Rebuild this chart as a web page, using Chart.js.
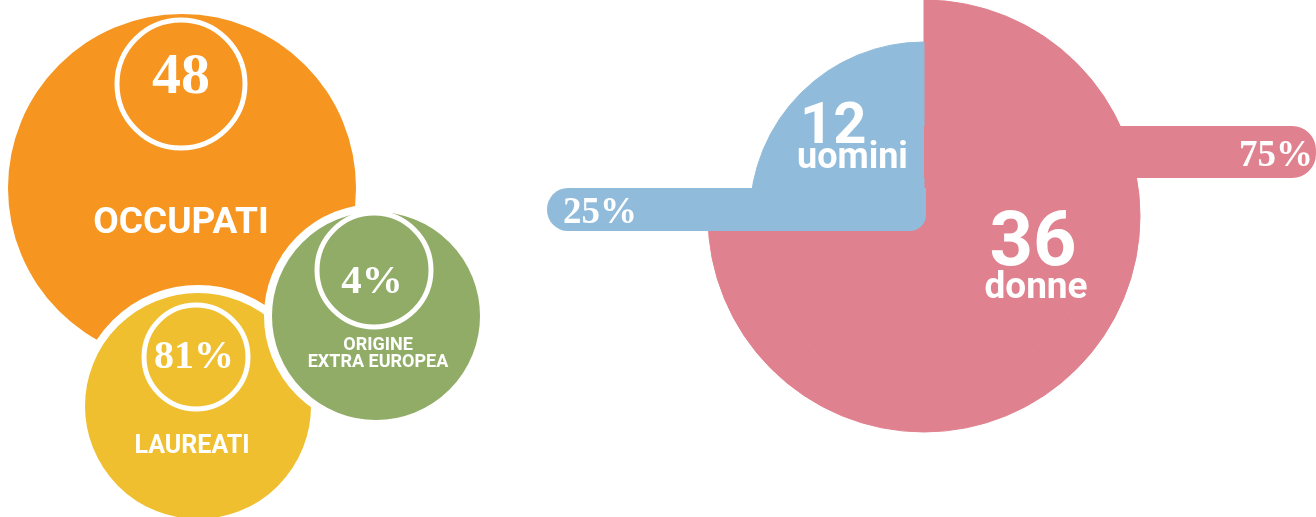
<!DOCTYPE html>
<html>
<head>
<meta charset="utf-8">
<script src="https://cdn.jsdelivr.net/npm/chart.js@4.4.1/dist/chart.umd.min.js"></script>
<style>
    html, body { margin: 0; padding: 0; background: #fff; }
    body { width: 1316px; height: 517px; position: relative; overflow: hidden; }
    /* bubble chart reserves its largest radius as padding on every side,
       so the canvas is grown by that much to keep the plot area on the page */
    #bubbleWrap { position: absolute; left: -174px; top: -174px; width: 888px; height: 865px; }
    #pieWrap { position: absolute; left: 520px; top: 0; width: 796px; height: 517px; }
</style>
</head>
<body>
<div id="pieWrap"><canvas id="pieChart"></canvas></div>
<div id="bubbleWrap"><canvas id="bubbleChart"></canvas></div>
<script>
(function () {
    "use strict";

    // ── Data ──
    const bubbleLabels = [["OCCUPATI"], ["LAUREATI"], ["ORIGINE", "EXTRA EUROPEA"]];
    const bubbleValues = ["48", "81%", "4%"];

    const genderLabels = ["donne", "uomini"];
    const genderCounts = [36, 12];

    // Palette
    const COLORS = {
        orange: "#F6951F",
        yellow: "#EFBF30",
        green:  "#90AC67",
        pink:   "#E0818F",
        blue:   "#91BBDA",
        white:  "#ffffff"
    };

    const SANS = "Roboto, 'Noto Sans', sans-serif";
    const SERIF = "'Liberation Serif', 'DejaVu Serif', serif";

    // Infographic layout of the bubbles (pixels, not data)
    const bubbleLayout = [
        { x: 182, y: 188, r: 174, border: 0, color: COLORS.orange,
          ring: { x: 181, y: 84, r: 64 },
          value: { dx: -1, dy: -95, size: 58 },
          label: { dx: -1, dy: 45, size: 37, lh: 0 } },
        { x: 198, y: 406, r: 117, border: 8, color: COLORS.yellow,
          ring: { x: 196, y: 357, r: 52 },
          value: { dx: -4, dy: -38, size: 40 },
          label: { dx: -6, dy: 47, size: 25, lh: 0 } },
        { x: 376, y: 316, r: 108, border: 8, color: COLORS.green,
          ring: { x: 374, y: 270, r: 57 },
          value: { dx: -4, dy: -23, size: 41 },
          label: { dx: 2, dy: 34, size: 18, lh: 17 } }
    ];

    function roundedRect(ctx, x, y, w, h, r) {
        // r = [topLeft, topRight, bottomRight, bottomLeft]
        ctx.beginPath();
        ctx.moveTo(x + r[0], y);
        ctx.lineTo(x + w - r[1], y);
        ctx.arcTo(x + w, y, x + w, y + r[1], r[1]);
        ctx.lineTo(x + w, y + h - r[2]);
        ctx.arcTo(x + w, y + h, x + w - r[2], y + h, r[2]);
        ctx.lineTo(x + r[3], y + h);
        ctx.arcTo(x, y + h, x, y + h - r[3], r[3]);
        ctx.lineTo(x, y + r[0]);
        ctx.arcTo(x, y, x + r[0], y, r[0]);
        ctx.closePath();
    }

    // ── Bubble texts ──
    const bubbleText = {
        id: "bubbleText",
        afterDatasetsDraw(chart) {
            const ctx = chart.ctx;
            const meta = chart.getDatasetMeta(1);
            ctx.save();
            ctx.fillStyle = COLORS.white;
            ctx.textAlign = "center";
            ctx.textBaseline = "alphabetic";
            meta.data.forEach((pt, i) => {
                const L = bubbleLayout[i];
                ctx.font = `bold ${L.value.size}px ${SERIF}`;
                ctx.fillText(bubbleValues[i], pt.x + L.value.dx, pt.y + L.value.dy);
                ctx.font = `bold ${L.label.size}px ${SANS}`;
                bubbleLabels[i].forEach((line, j) => {
                    ctx.fillText(line, pt.x + L.label.dx, pt.y + L.label.dy + j * L.label.lh);
                });
            });
            ctx.restore();
        }
    };

    new Chart(document.getElementById("bubbleChart"), {
        type: "bubble",
        data: {
            labels: bubbleValues,
            datasets: [
                {
                    // inner white rings
                    data: bubbleLayout.map(b => ({ x: b.ring.x, y: b.ring.y, r: b.ring.r })),
                    backgroundColor: "rgba(0,0,0,0)",
                    borderColor: COLORS.white,
                    borderWidth: 5,
                    order: 0,
                    clip: false
                },
                {
                    data: bubbleLayout.map(b => ({ x: b.x, y: b.y, r: b.r })),
                    backgroundColor: bubbleLayout.map(b => b.color),
                    borderColor: COLORS.white,
                    borderWidth: bubbleLayout.map(b => b.border),
                    order: 1,
                    clip: false
                }
            ]
        },
        options: {
            responsive: true,
            maintainAspectRatio: false,
            animation: false,
            events: [],
            layout: { padding: 0 },
            plugins: { legend: { display: false }, tooltip: { enabled: false } },
            scales: {
                x: { type: "linear", min: 0, max: 540, display: false },
                y: { type: "linear", min: 0, max: 517, reverse: true, display: false }
            }
        },
        plugins: [bubbleText]
    });

    // ── Pie callouts and labels ──
    const pieCallouts = {
        id: "pieCallouts",
        afterDatasetsDraw(chart) {
            const ctx = chart.ctx;
            const arcs = chart.getDatasetMeta(1).data;
            const cx = arcs[0].x, cy = arcs[0].y;
            const total = genderCounts.reduce((a, b) => a + b, 0);
            const pct = genderCounts.map(v => Math.round(v / total * 100) + "%");

            ctx.save();
            // blue callout bar to the left
            ctx.fillStyle = COLORS.blue;
            roundedRect(ctx, cx - 377, cy - 28, 379, 43, [21, 0, 16, 21]);
            ctx.fill();
            // pink callout bar to the right
            ctx.fillStyle = COLORS.pink;
            roundedRect(ctx, cx, cy - 90, chart.width - cx, 52, [0, 24, 24, 0]);
            ctx.fill();

            ctx.fillStyle = COLORS.white;
            ctx.textBaseline = "alphabetic";

            ctx.font = `bold 37px ${SERIF}`;
            ctx.textAlign = "left";
            ctx.fillText(pct[1], cx - 361, cy + 7);
            ctx.textAlign = "right";
            ctx.fillText(pct[0], chart.width - 3, cy - 50);

            ctx.textAlign = "left";
            ctx.font = `bold 58px ${SANS}`;
            ctx.fillText(String(genderCounts[1]), cx - 124, cy - 73);
            ctx.font = `bold 36px ${SANS}`;
            ctx.fillText(genderLabels[1], cx - 127, cy - 48);

            ctx.textAlign = "center";
            ctx.font = `bold 76px ${SANS}`;
            ctx.fillText(String(genderCounts[0]), cx + 109, cy + 49);
            ctx.font = `bold 37px ${SANS}`;
            ctx.fillText(genderLabels[0], cx + 112, cy + 82);
            ctx.restore();
        }
    };

    new Chart(document.getElementById("pieChart"), {
        type: "pie",
        data: {
            labels: genderLabels,
            datasets: [
                {
                    // outer ring: only the larger slice reaches the full radius
                    data: genderCounts,
                    backgroundColor: [COLORS.pink, "rgba(0,0,0,0)"],
                    borderColor: [COLORS.pink, "rgba(0,0,0,0)"],
                    borderWidth: 1,
                    weight: 42
                },
                {
                    data: genderCounts,
                    backgroundColor: [COLORS.pink, COLORS.blue],
                    borderColor: [COLORS.pink, COLORS.blue],
                    borderWidth: 1,
                    weight: 174
                }
            ]
        },
        options: {
            responsive: true,
            maintainAspectRatio: false,
            animation: false,
            events: [],
            radius: 216,
            rotation: 0,
            layout: { padding: { left: 12, right: 0, top: 0, bottom: 85 } },
            plugins: { legend: { display: false }, tooltip: { enabled: false } }
        },
        plugins: [pieCallouts]
    });
})();
</script>
</body>
</html>
